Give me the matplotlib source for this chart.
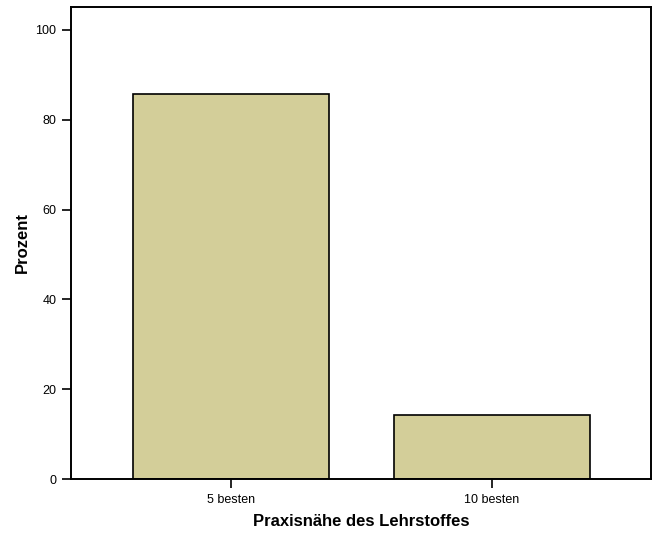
import matplotlib
matplotlib.use("Agg")
import matplotlib.pyplot as plt

# Praxisnähe des Lehrstoffes - Prozent je Gruppe
categories = ["5 besten", "10 besten"]
percents = [85.71, 14.29]

plt.rcParams['font.family'] = ['Liberation Sans', 'DejaVu Sans']

fig = plt.figure(figsize=(6.59, 5.38), dpi=100)
ax = fig.add_axes([71 / 659, 1 - 479 / 538, 580 / 659, 472.5 / 538])

x = list(range(len(categories)))
ax.bar(x, percents, width=0.75, color="#d3ce99", edgecolor="black", linewidth=1.2)

ax.set_xlim(-0.613, 1.609)
ax.set_ylim(0, 105.2)
ax.set_xticks(x)
ax.set_xticklabels(categories, fontsize=9)
ax.set_yticks([0, 20, 40, 60, 80, 100])
ax.tick_params(axis="both", length=6.5, width=1.2, labelsize=9, pad=4)

for s in ax.spines.values():
    s.set_linewidth(1.4)

ax.set_xlabel("Praxisnähe des Lehrstoffes", fontsize=12, fontweight="bold", labelpad=6)
ax.set_ylabel("Prozent", fontsize=12, fontweight="bold", labelpad=4)

fig.savefig("out.png", dpi=100)
